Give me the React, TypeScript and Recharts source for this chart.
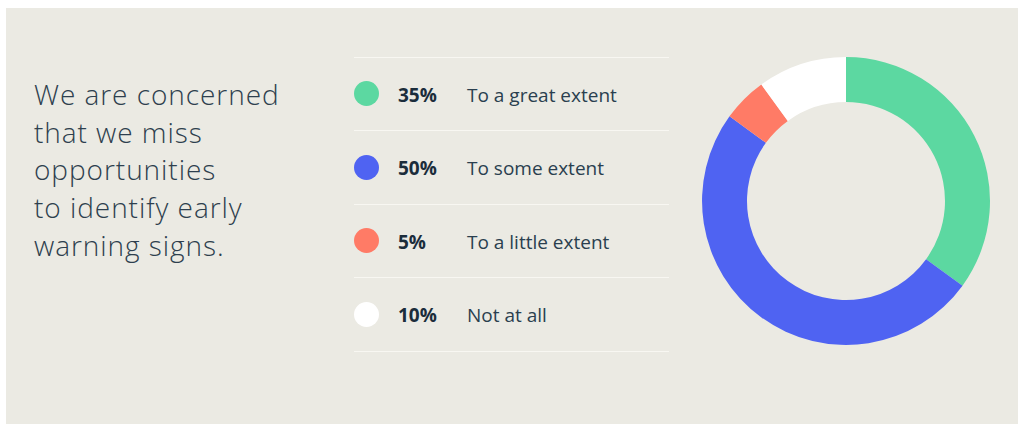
import React from "react";
import { PieChart, Pie, Cell, Legend } from "recharts";

const categories = ["To a great extent", "To some extent", "To a little extent", "Not at all"];
const values = [35, 50, 5, 10];
const percentLabels = ["35%", "50%", "5%", "10%"];
const colors = ["#5CD8A1", "#4F63F2", "#FF7B66", "#FFFFFF"];
const titleLines = ["We are concerned", "that we miss", "opportunities", "to identify early", "warning signs."];

const data = categories.map((name, i) => ({ name, value: values[i] }));

const FONT = "'Open Sans', 'Noto Sans', sans-serif";

function LegendRows() {
  return (
    <div style={{ width: 315, borderTop: "1.5px solid #F8F7F2" }}>
      {categories.map((c, i) => (
        <div
          key={c}
          style={{
            boxSizing: "border-box",
            height: 73.5,
            borderBottom: "1.5px solid #F8F7F2",
            display: "flex",
            alignItems: "center",
            fontFamily: FONT,
            fontSize: 19,
          }}
        >
          <span
            style={{
              display: "inline-block",
              width: 25,
              height: 25,
              borderRadius: "50%",
              background: colors[i],
              marginLeft: 0,
            }}
          />
          <span style={{ marginLeft: 19, width: 69, fontWeight: 700, color: "#1B2D3B", paddingTop: 2 }}>
            {percentLabels[i]}
          </span>
          <span style={{ color: "#2A3F4F", paddingTop: 2 }}>{c}</span>
        </div>
      ))}
    </div>
  );
}

export default function App() {
  return (
    <div style={{ position: "absolute", left: 0, top: 0, width: 1024, height: 433, background: "#FFFFFF" }}>
      <div style={{ position: "absolute", left: 6, top: 8, width: 1012, height: 416, background: "#EBEAE3" }} />
      <div
        style={{
          position: "absolute",
          left: 34,
          top: 76,
          fontFamily: FONT,
          fontWeight: 300,
          fontSize: 28,
          letterSpacing: 0.95,
          lineHeight: "37.7px",
          color: "#2E3F4E",
          whiteSpace: "pre",
        }}
      >
        {titleLines.join("\n")}
      </div>
      <div style={{ position: "absolute", left: 0, top: 0 }}>
        <PieChart width={1024} height={433} margin={{ top: 0, right: 0, bottom: 0, left: 0 }}>
          <Pie
            data={data}
            dataKey="value"
            nameKey="name"
            cx={846}
            cy={201}
            innerRadius={99}
            outerRadius={144}
            startAngle={90}
            endAngle={-270}
            stroke="none"
            isAnimationActive={false}
          >
            {data.map((d, i) => (
              <Cell key={d.name} fill={colors[i]} />
            ))}
          </Pie>
          <Legend
            content={() => <LegendRows />}
            wrapperStyle={{ position: "absolute", left: 354, top: 56.5, width: 315 }}
          />
        </PieChart>
      </div>
    </div>
  );
}
